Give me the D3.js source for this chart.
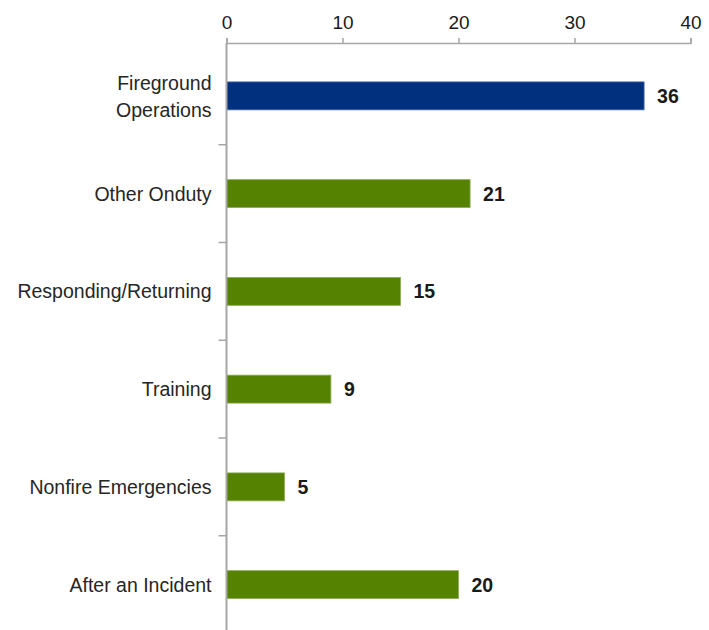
<!DOCTYPE html>
<html>
<head>
<meta charset="utf-8">
<script src="https://cdn.jsdelivr.net/npm/d3@7"></script>
<style>
  body { margin: 0; background: #fff; }
  svg { display: block; }
</style>
</head>
<body>
<div id="chart"></div>
<script>
const categories = [
  'Fireground Operations',
  'Other Onduty',
  'Responding/Returning',
  'Training',
  'Nonfire Emergencies',
  'After an Incident',
];
const values = [36, 21, 15, 9, 5, 20];
const highlighted = ['Fireground Operations'];
const ticks = [0, 10, 20, 30, 40];

const w = 709;
const h = 630;
const margin = { top: 43, right: 18.5, bottom: 0, left: 226.5 };
const font = "'Liberation Sans', Arial, sans-serif";

const data = categories.map((c, i) => ({ name: c, value: values[i] }));

const xScale = d3
  .scaleLinear()
  .domain([0, 40])
  .range([margin.left, w - margin.right]);

const yScale = d3
  .scaleBand()
  .domain(categories)
  .range([47, 633.5])
  .paddingInner(0.714)
  .paddingOuter(0.357);

const svg = d3
  .select('#chart')
  .append('svg')
  .attr('width', w)
  .attr('height', h);

// bars
svg
  .selectAll('rect.bar')
  .data(data)
  .enter()
  .append('rect')
  .attr('class', 'bar')
  .attr('x', xScale(0))
  .attr('y', (d) => yScale(d.name))
  .attr('width', (d) => xScale(d.value) - xScale(0))
  .attr('height', yScale.bandwidth())
  .attr('fill', (d) => (highlighted.includes(d.name) ? '#00307e' : '#558200'))
  .attr('stroke', (d) => (highlighted.includes(d.name) ? '#4a6aa8' : '#8cae55'))
  .attr('stroke-width', 0.8);

// value labels
svg
  .selectAll('text.val')
  .data(data)
  .enter()
  .append('text')
  .attr('class', 'val')
  .attr('x', (d) => xScale(d.value) + 13)
  .attr('y', (d) => yScale(d.name) + yScale.bandwidth() / 2)
  .attr('dy', '0.36em')
  .attr('font-family', font)
  .attr('font-weight', 'bold')
  .attr('font-size', 19.5)
  .attr('fill', '#1a1a1a')
  .text((d) => d.value);

// top x axis
const xAxis = d3.axisTop(xScale).tickValues(ticks).tickSize(5).tickPadding(9);
const gx = svg
  .append('g')
  .attr('transform', 'translate(0,' + margin.top + ')')
  .call(xAxis);
gx.selectAll('path, line').attr('stroke', '#a6a6a6').attr('stroke-width', 1.5);
gx.selectAll('text')
  .attr('font-family', font)
  .attr('font-size', 19)
  .attr('fill', '#1a1a1a');

// left axis with separators between categories
const yAxis = svg.append('g');
yAxis
  .append('line')
  .attr('x1', xScale(0))
  .attr('x2', xScale(0))
  .attr('y1', margin.top)
  .attr('y2', h)
  .attr('stroke', '#a6a6a6')
  .attr('stroke-width', 2);

const step = yScale.step();
yAxis
  .selectAll('line.sep')
  .data(categories.slice(1))
  .enter()
  .append('line')
  .attr('class', 'sep')
  .attr('x1', xScale(0) - 8)
  .attr('x2', xScale(0))
  .attr('y1', (d) => yScale(d) - (step - yScale.bandwidth()) / 2)
  .attr('y2', (d) => yScale(d) - (step - yScale.bandwidth()) / 2)
  .attr('stroke', '#a6a6a6')
  .attr('stroke-width', 1.5);

// category labels
const labels = svg
  .selectAll('text.cat')
  .data(categories)
  .enter()
  .append('text')
  .attr('class', 'cat')
  .attr('x', xScale(0) - 15)
  .attr('y', (d) => yScale(d) + yScale.bandwidth() / 2)
  .attr('text-anchor', 'end')
  .attr('font-family', font)
  .attr('font-size', 19.5)
  .attr('fill', '#262626');

labels.each(function (d) {
  const t = d3.select(this);
  const lines = d === 'Fireground Operations' ? ['Fireground', 'Operations'] : [d];
  lines.forEach((line, i) => {
    t.append('tspan')
      .attr('x', xScale(0) - 15)
      .attr('dy', i === 0 ? (0.36 - (lines.length - 1) * 0.68) + 'em' : '1.38em')
      .text(line);
  });
});
</script>
</body>
</html>
